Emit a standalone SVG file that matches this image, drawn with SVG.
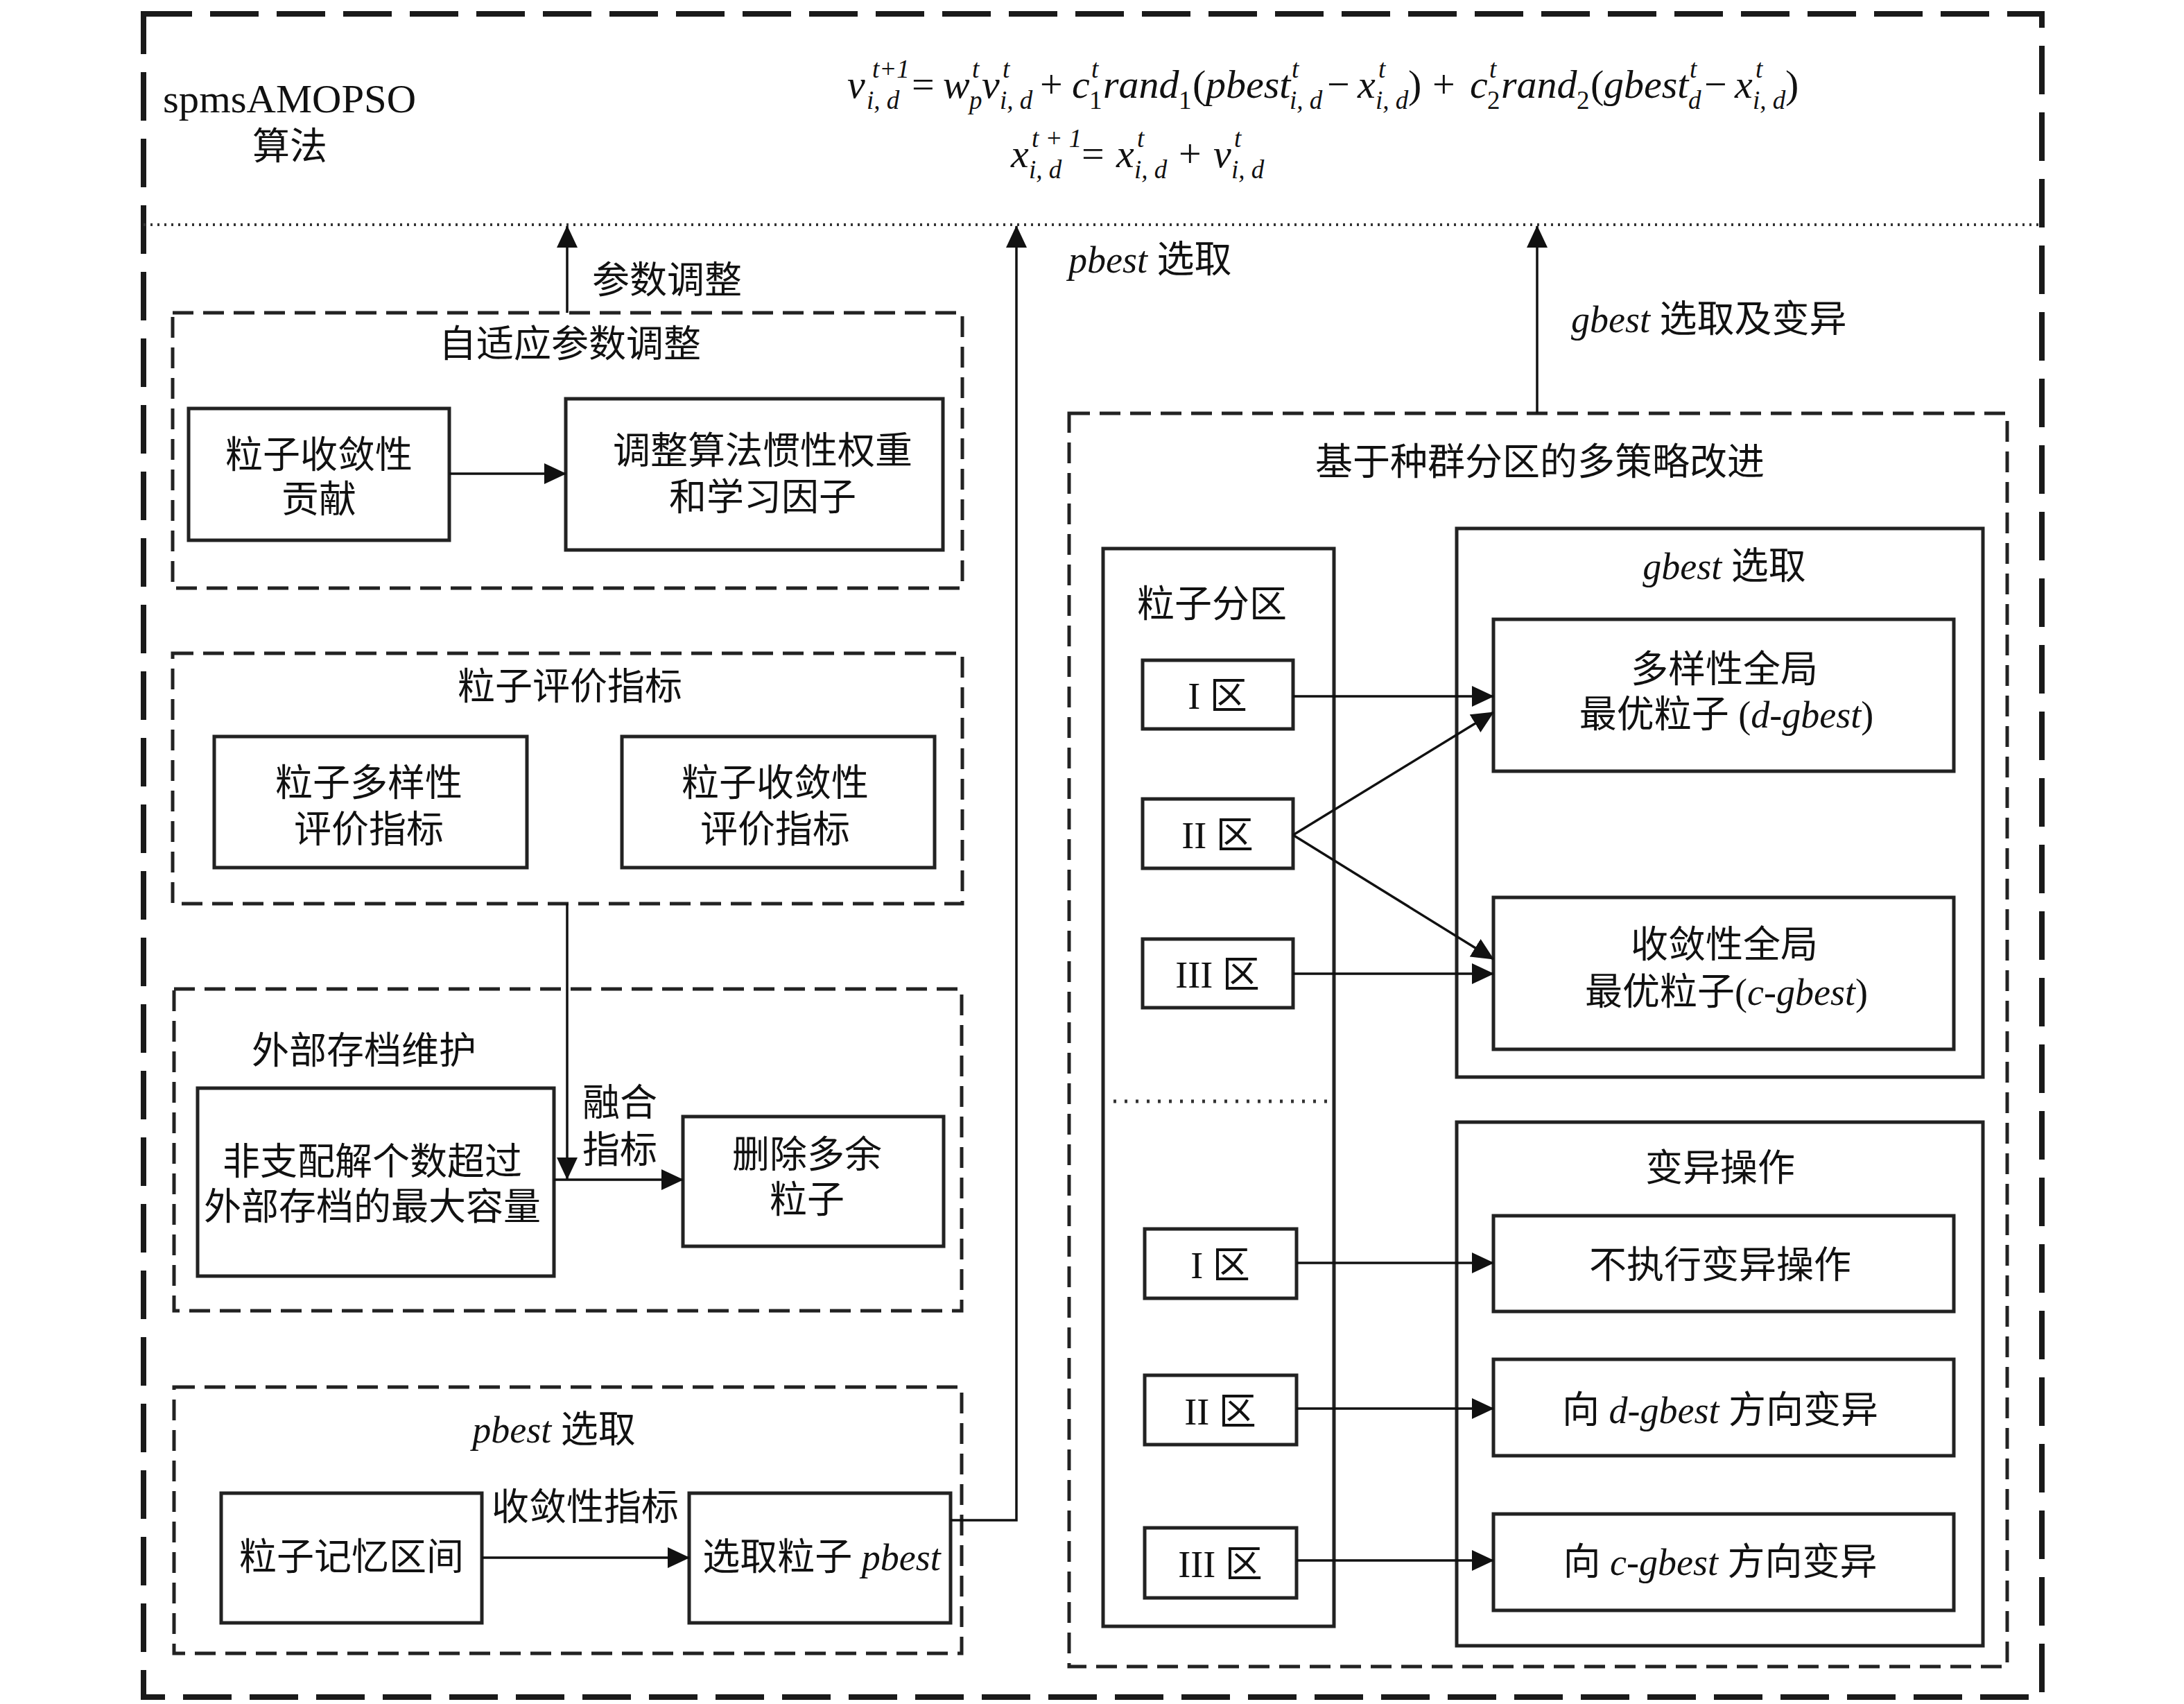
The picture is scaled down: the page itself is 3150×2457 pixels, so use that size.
<svg xmlns="http://www.w3.org/2000/svg" width="3150" height="2457" viewBox="0 0 3150 2457">
<style>
.outer{fill:none;stroke:#1a1a1a;stroke-width:8;stroke-dasharray:70 26}
.dbox{fill:none;stroke:#222;stroke-width:5;stroke-dasharray:30 14}
.sbox{fill:none;stroke:#222;stroke-width:5}
.dot{fill:none;stroke:#333;stroke-width:4;stroke-dasharray:3 7}
.dot2{fill:none;stroke:#333;stroke-width:5;stroke-dasharray:4 12}
.conn{fill:none;stroke:#111;stroke-width:3.5}
.t{font-family:"Liberation Serif","Noto Sans CJK SC",serif;font-size:54px;fill:#111;text-anchor:middle}
.ts{font-family:"Liberation Serif","Noto Sans CJK SC",serif;font-size:54px;fill:#111;text-anchor:start}
.i{font-style:italic}
.m{font-family:"Liberation Serif",serif;font-size:58px;font-style:italic;fill:#111}
.r{font-family:"Liberation Serif",serif;font-size:58px;fill:#111}
.s{font-family:"Liberation Serif",serif;font-size:37px;font-style:italic;fill:#111}
.sr{font-family:"Liberation Serif",serif;font-size:37px;fill:#111}
</style>
<defs>
<marker id="ah" markerUnits="userSpaceOnUse" markerWidth="32" markerHeight="30" refX="31" refY="15" orient="auto">
<path d="M0,0 L32,15 L0,30 z" fill="#111"/>
</marker>
</defs>
<rect width="3150" height="2457" fill="#fff"/>

<g id="outer">
<rect class="outer" x="207" y="20" width="2738" height="2427"/>
<line class="dot" x1="207" y1="324" x2="2945" y2="324"/>
<text class="ts" x="235" y="162" textLength="365" lengthAdjust="spacingAndGlyphs" style="font-size:58px">spmsAMOPSO</text>
<text class="t" x="418" y="230">算法</text>
</g>

<g id="formula">
<text class="m" x="1222" y="141">v</text>
<text class="s" x="1258" y="112">t<tspan class="sr">+1</tspan></text>
<text class="s" x="1250" y="157">i, d</text>
<text class="r" x="1315" y="141">=</text>
<text class="m" x="1360" y="141">w</text>
<text class="s" x="1402" y="112">t</text>
<text class="s" x="1398" y="157">p</text>
<text class="m" x="1416" y="141">v</text>
<text class="s" x="1446" y="112">t</text>
<text class="s" x="1442" y="157">i, d</text>
<text class="r" x="1500" y="141">+</text>
<text class="m" x="1546" y="141">c</text>
<text class="s" x="1574" y="112">t</text>
<text class="sr" x="1571" y="157">1</text>
<text class="m" x="1591" y="141">rand</text>
<text class="sr" x="1700" y="157">1</text>
<text class="r" x="1720" y="141">(</text>
<text class="m" x="1739" y="141">pbest</text>
<text class="s" x="1863" y="112">t</text>
<text class="s" x="1860" y="157">i, d</text>
<text class="r" x="1914" y="141">−</text>
<text class="m" x="1958" y="141">x</text>
<text class="s" x="1988" y="112">t</text>
<text class="s" x="1984" y="157">i, d</text>
<text class="r" x="2031" y="141">)</text>
<text class="r" x="2066" y="141">+</text>
<text class="m" x="2120" y="141">c</text>
<text class="s" x="2148" y="112">t</text>
<text class="sr" x="2145" y="157">2</text>
<text class="m" x="2165" y="141">rand</text>
<text class="sr" x="2274" y="157">2</text>
<text class="r" x="2294" y="141">(</text>
<text class="m" x="2313" y="141">gbest</text>
<text class="s" x="2437" y="112">t</text>
<text class="s" x="2435" y="157">d</text>
<text class="r" x="2458" y="141">−</text>
<text class="m" x="2502" y="141">x</text>
<text class="s" x="2532" y="112">t</text>
<text class="s" x="2528" y="157">i, d</text>
<text class="r" x="2575" y="141">)</text>

<text class="m" x="1458" y="241">x</text>
<text class="s" x="1488" y="212">t<tspan class="sr"> + 1</tspan></text>
<text class="s" x="1484" y="257">i, d</text>
<text class="r" x="1560" y="241">=</text>
<text class="m" x="1610" y="241">x</text>
<text class="s" x="1640" y="212">t</text>
<text class="s" x="1636" y="257">i, d</text>
<text class="r" x="1700" y="241">+</text>
<text class="m" x="1750" y="241">v</text>
<text class="s" x="1780" y="212">t</text>
<text class="s" x="1776" y="257">i, d</text>
</g>

<g id="adaptive">
<rect class="dbox" x="249" y="451" width="1139" height="397"/>
<text class="t" x="822" y="515">自适应参数调整</text>
</g>
<g id="conv-contrib">
<rect class="sbox" x="272" y="589" width="376" height="190"/>
<text class="t" x="460" y="675">粒子收敛性</text>
<text class="t" x="460" y="739">贡献</text>
</g>
<g id="adjust-weight">
<rect class="sbox" x="816" y="575" width="544" height="218"/>
<text class="t" x="1100" y="669">调整算法惯性权重</text>
<text class="t" x="1100" y="736">和学习因子</text>
</g>

<g id="eval">
<rect class="dbox" x="249" y="942" width="1139" height="361"/>
<text class="t" x="822" y="1009">粒子评价指标</text>
</g>
<g id="div-eval">
<rect class="sbox" x="309" y="1062" width="451" height="189"/>
<text class="t" x="532" y="1148">粒子多样性</text>
<text class="t" x="532" y="1215">评价指标</text>
</g>
<g id="conv-eval">
<rect class="sbox" x="897" y="1062" width="451" height="189"/>
<text class="t" x="1118" y="1148">粒子收敛性</text>
<text class="t" x="1118" y="1215">评价指标</text>
</g>

<g id="archive">
<rect class="dbox" x="251" y="1426" width="1136" height="464"/>
<text class="t" x="525" y="1534">外部存档维护</text>
</g>
<g id="nondominated">
<rect class="sbox" x="285" y="1569" width="514" height="271"/>
<text class="t" x="537" y="1694">非支配解个数超过</text>
<text class="t" x="537" y="1759">外部存档的最大容量</text>
</g>
<g id="delete">
<rect class="sbox" x="985" y="1610" width="376" height="187"/>
<text class="t" x="1164" y="1684">删除多余</text>
<text class="t" x="1164" y="1749">粒子</text>
</g>

<g id="pbest-sel">
<rect class="dbox" x="251" y="2000" width="1136" height="384"/>
<text class="t" x="799" y="2080"><tspan class="i">pbest</tspan> 选取</text>
</g>
<g id="memory">
<rect class="sbox" x="319" y="2153" width="376" height="187"/>
<text class="t" x="507" y="2264">粒子记忆区间</text>
</g>
<g id="select-pbest">
<rect class="sbox" x="994" y="2153" width="377" height="187"/>
<text class="t" x="1185" y="2264">选取粒子 <tspan class="i">pbest</tspan></text>
</g>

<g id="multi-strategy">
<rect class="dbox" x="1542" y="596" width="1353" height="1807"/>
<text class="t" x="2221" y="685">基于种群分区的多策略改进</text>
</g>
<g id="partition">
<rect class="sbox" x="1591" y="791" width="333" height="1554"/>
<text class="t" x="1748" y="890">粒子分区</text>
<line class="dot2" x1="1606" y1="1588" x2="1916" y2="1588"/>
</g>
<g id="zone1a"><rect class="sbox" x="1648" y="952" width="217" height="99"/><text class="t" x="1756" y="1022">I 区</text></g>
<g id="zone2a"><rect class="sbox" x="1648" y="1152" width="217" height="100"/><text class="t" x="1756" y="1223">II 区</text></g>
<g id="zone3a"><rect class="sbox" x="1648" y="1354" width="217" height="99"/><text class="t" x="1756" y="1424">III 区</text></g>
<g id="zone1b"><rect class="sbox" x="1651" y="1772" width="219" height="100"/><text class="t" x="1760" y="1843">I 区</text></g>
<g id="zone2b"><rect class="sbox" x="1651" y="1983" width="219" height="100"/><text class="t" x="1760" y="2054">II 区</text></g>
<g id="zone3b"><rect class="sbox" x="1651" y="2203" width="219" height="101"/><text class="t" x="1760" y="2274">III 区</text></g>

<g id="gbest-sel">
<rect class="sbox" x="2101" y="762" width="759" height="791"/>
<text class="t" x="2487" y="835"><tspan class="i">gbest</tspan> 选取</text>
</g>
<g id="d-gbest">
<rect class="sbox" x="2154" y="893" width="664" height="219"/>
<text class="t" x="2487" y="984">多样性全局</text>
<text class="t" x="2490" y="1049">最优粒子 (<tspan class="i">d-gbest</tspan>)</text>
</g>
<g id="c-gbest">
<rect class="sbox" x="2154" y="1294" width="664" height="219"/>
<text class="t" x="2487" y="1381">收敛性全局</text>
<text class="t" x="2490" y="1449">最优粒子(<tspan class="i">c-gbest</tspan>)</text>
</g>

<g id="mutation">
<rect class="sbox" x="2101" y="1618" width="759" height="755"/>
<text class="t" x="2481" y="1703">变异操作</text>
</g>
<g id="no-mutation">
<rect class="sbox" x="2154" y="1753" width="664" height="138"/>
<text class="t" x="2481" y="1843">不执行变异操作</text>
</g>
<g id="mut-d">
<rect class="sbox" x="2154" y="1960" width="664" height="139"/>
<text class="t" x="2481" y="2052">向 <tspan class="i">d-gbest</tspan> 方向变异</text>
</g>
<g id="mut-c">
<rect class="sbox" x="2154" y="2183" width="664" height="139"/>
<text class="t" x="2481" y="2271">向 <tspan class="i">c-gbest</tspan> 方向变异</text>
</g>

<g id="connectors">
<line class="conn" x1="818" y1="451" x2="818" y2="326" marker-end="url(#ah)"/>
<text class="ts" x="854" y="423">参数调整</text>
<polyline class="conn" points="1371,2192 1466,2192 1466,326" marker-end="url(#ah)"/>
<text class="ts" x="1541" y="393"><tspan class="i">pbest</tspan> 选取</text>
<line class="conn" x1="2217" y1="596" x2="2217" y2="326" marker-end="url(#ah)"/>
<text class="ts" x="2266" y="479"><tspan class="i">gbest</tspan> 选取及变异</text>

<line class="conn" x1="648" y1="683" x2="816" y2="683" marker-end="url(#ah)"/>
<line class="conn" x1="818" y1="1303" x2="818" y2="1700" marker-end="url(#ah)"/>
<line class="conn" x1="799" y1="1701" x2="985" y2="1701" marker-end="url(#ah)"/>
<text class="t" x="894" y="1609">融合</text>
<text class="t" x="894" y="1677">指标</text>
<line class="conn" x1="695" y1="2246" x2="994" y2="2246" marker-end="url(#ah)"/>
<text class="t" x="844" y="2192">收敛性指标</text>

<line class="conn" x1="1865" y1="1004" x2="2154" y2="1004" marker-end="url(#ah)"/>
<line class="conn" x1="1865" y1="1204" x2="2154" y2="1027" marker-end="url(#ah)"/>
<line class="conn" x1="1865" y1="1204" x2="2154" y2="1383" marker-end="url(#ah)"/>
<line class="conn" x1="1865" y1="1404" x2="2154" y2="1404" marker-end="url(#ah)"/>
<line class="conn" x1="1870" y1="1821" x2="2154" y2="1821" marker-end="url(#ah)"/>
<line class="conn" x1="1870" y1="2031" x2="2154" y2="2031" marker-end="url(#ah)"/>
<line class="conn" x1="1870" y1="2250" x2="2154" y2="2250" marker-end="url(#ah)"/>
</g>
</svg>
